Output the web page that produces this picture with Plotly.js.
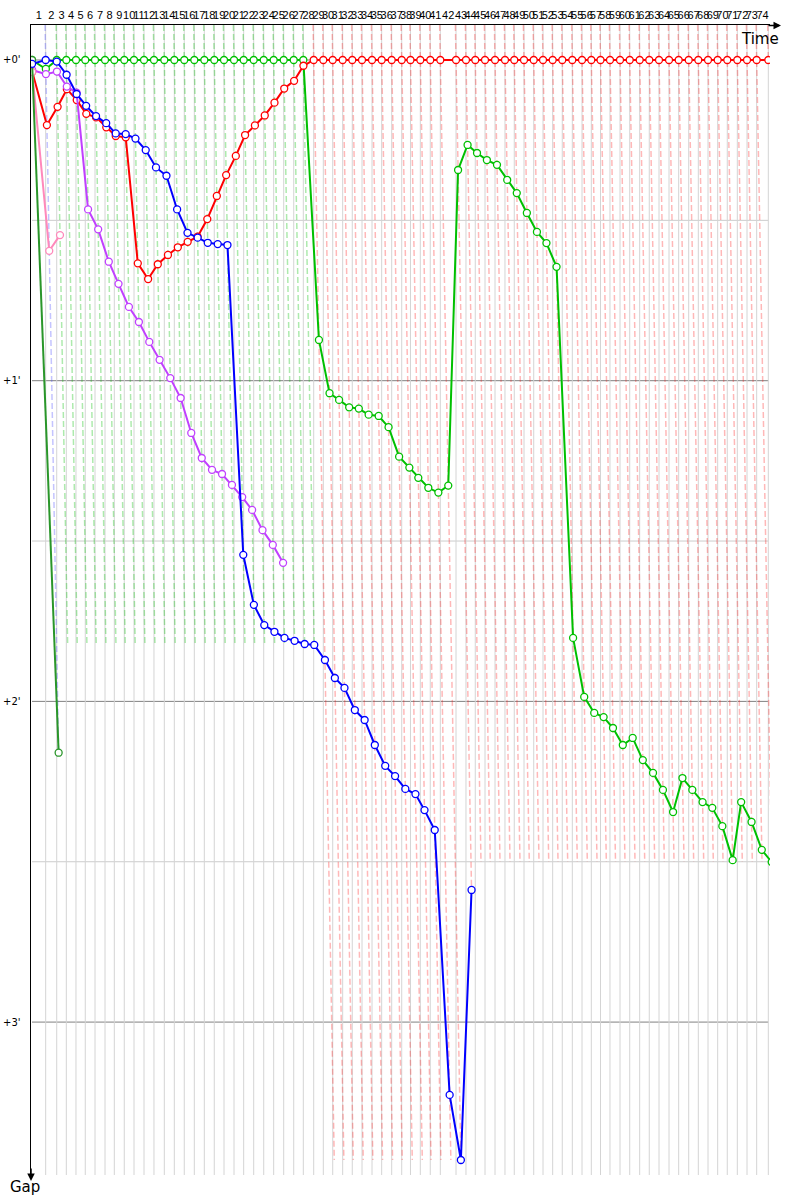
<!DOCTYPE html>
<html><head><meta charset="utf-8">
<script src="https://cdn.plot.ly/plotly-3.0.1.min.js"></script>
<style>html,body{margin:0;padding:0;background:#fff}</style>
</head><body><div id="chart" style="width:800px;height:1200px"></div>
<script>
// Lap numbers (tick labels)
const lapNumbers = [1,2,3,4,5,6,7,8,9,10,11,12,13,14,15,16,17,18,19,20,21,22,23,24,25,26,27,28,29,30,31,32,33,34,35,36,37,38,39,40,41,42,43,44,45,46,47,48,49,50,51,52,53,54,55,56,57,58,59,60,61,62,63,64,65,66,67,68,69,70,71,72,73,74];
// Leader's cumulative time (minutes) at end of lap 0..74
const leaderLapTimes = [0,2.28,4.12,5.72,7.33,8.88,10.50,12.17,13.72,15.38,17.00,18.67,20.33,22.05,23.72,25.38,27.05,28.72,30.38,32.00,33.67,35.28,36.95,38.62,40.28,41.95,43.62,45.22,46.95,48.55,50.12,51.78,53.38,55.00,56.67,58.28,59.95,61.62,63.08,64.72,66.38,68.05,70.67,72.33,73.88,75.50,77.17,78.83,80.38,82.00,83.62,85.17,86.78,88.38,90.05,91.67,93.22,94.75,96.33,98.00,99.62,101.28,102.88,104.50,106.17,107.78,109.45,111.05,112.67,114.28,115.88,117.55,119.17,120.78,122.72];
// Gap to leader (minutes) per lap, starting at lap 0
const gapGreen = [0,0.028,0,0,0,0,0,0,0,0,0,0,0,0,0,0,0,0,0,0,0,0,0,0,0,0,0,0,0.873,1.039,1.060,1.083,1.087,1.106,1.110,1.145,1.237,1.271,1.303,1.334,1.349,1.327,0.343,0.265,0.290,0.312,0.327,0.374,0.415,0.477,0.536,0.571,0.645,1.802,1.986,2.036,2.049,2.083,2.136,2.114,2.183,2.223,2.276,2.345,2.239,2.276,2.314,2.332,2.389,2.495,2.314,2.376,2.463,2.501];
const gapRed = [0.037,0.203,0.146,0.091,0.125,0.168,0.179,0.210,0.237,0.241,0.634,0.683,0.637,0.608,0.584,0.567,0.551,0.496,0.424,0.359,0.299,0.234,0.204,0.173,0.133,0.089,0.065,0.018,0,0,0,0,0,0,0,0,0,0,0,0,0,0,0,0,0,0,0,0,0,0,0,0,0,0,0,0,0,0,0,0,0,0,0,0,0,0,0,0,0,0,0,0,0,0,0];
const gapBlue = [0.012,0,0.005,0.046,0.106,0.143,0.175,0.197,0.229,0.231,0.245,0.281,0.335,0.361,0.466,0.539,0.554,0.570,0.574,0.577,1.543,1.699,1.762,1.783,1.802,1.811,1.821,1.824,1.871,1.927,1.958,2.027,2.058,2.136,2.201,2.233,2.273,2.289,2.339,2.401,3.227,3.430,2.588];
const gapMagenta = [0.031,0.044,0.036,0.083,0.102,0.466,0.528,0.629,0.698,0.770,0.817,0.879,0.935,0.992,1.054,1.163,1.241,1.278,1.291,1.325,1.363,1.403,1.466,1.512,1.568];
const gapPink = [0.037,0.595,0.546];
const gapDarkGreen = [0,2.160];

const carNames = ['green','red','magenta','pink','darkgreen','blue'];
const carGaps = [gapGreen, gapRed, gapMagenta, gapPink, gapDarkGreen, gapBlue];
const carColors = ['#00c000','#ff0000','#c040ff','#ff88bb','#2a962a','#0000ff'];
const lapLineColors = {green:'rgba(0,190,0,0.32)', red:'rgba(255,0,0,0.28)', blue:'rgba(60,60,255,0.3)', magenta:'rgba(190,60,255,0.3)', pink:'rgba(255,120,180,0.3)', darkgreen:'rgba(40,150,40,0.3)'};

const Y_TOP = -0.1091, Y_BOT = 3.4768;
const traces = [];

// vertical grey lap grid lines at leader lap times
(function(){
  const x=[], y=[];
  for (let k=1;k<leaderLapTimes.length;k++){ x.push(leaderLapTimes[k],leaderLapTimes[k],null); y.push(Y_TOP,Y_BOT,null); }
  traces.push({x,y,mode:'lines',line:{color:'#d4d4d4',width:1},hoverinfo:'skip'});
})();

// leader of each lap
const leaderOf = [];
for (let k=1;k<leaderLapTimes.length;k++){
  let best=null, bg=1e9;
  carGaps.forEach((g,i)=>{ if (k<g.length && g[k]<bg){bg=g[k];best=carNames[i];} });
  leaderOf[k]=best;
}
// end of each lap line: largest gap at laps >= k within the same leader stint
const lapLineEnd = [];
for (let k=1;k<leaderLapTimes.length;k++){
  let m=0;
  for (let j=k;j<leaderLapTimes.length && leaderOf[j]===leaderOf[k];j++){
    carGaps.forEach(g=>{ if (j<g.length && g[j]>m) m=g[j]; });
  }
  lapLineEnd[k]=m;
}
// dashed lap lines (constant-lap lines: x = leaderTime + gap)
const byColor = {};
for (let k=1;k<leaderLapTimes.length;k++){
  const c = leaderOf[k];
  if(!byColor[c]) byColor[c]={x:[],y:[]};
  const t=leaderLapTimes[k];
  byColor[c].x.push(t+Y_TOP, t+lapLineEnd[k], null);
  byColor[c].y.push(Y_TOP, lapLineEnd[k], null);
}
Object.keys(byColor).forEach(c=>{
  traces.push({x:byColor[c].x,y:byColor[c].y,mode:'lines',line:{color:lapLineColors[c],width:1.5,dash:'6px,3px'},hoverinfo:'skip'});
});

// cars
carGaps.forEach((g,i)=>{
  const x=g.map((v,k)=>leaderLapTimes[k]+v);
  traces.push({x, y:g.slice(), mode:'lines+markers', line:{color:carColors[i],width:2},
    marker:{symbol:'circle',size:7,color:'#ffffff',line:{color:carColors[i],width:1.3}}, hoverinfo:'skip'});
});

const mids = lapNumbers.map((n,i)=>(leaderLapTimes[i]+leaderLapTimes[i+1])/2);
const tEnd = leaderLapTimes[leaderLapTimes.length-1];
const shapes=[];
[0.5,1.5,2.5].forEach(v=>shapes.push({type:'line',xref:'x',yref:'y',x0:0,x1:tEnd,y0:v,y1:v,line:{color:'#cccccc',width:1},layer:'below'}));
[0,1,2,3].forEach(v=>shapes.push({type:'line',xref:'x',yref:'y',x0:0,x1:tEnd,y0:v,y1:v,line:{color:'#808080',width:1},layer:'below'}));

const W=800,H=1200,ML=31,MR=30,MT=25,MB=25;
const PW=W-ML-MR, PH=H-MT-MB;
const px=p=>(p-ML)/PW, py=q=>(H-MB-q)/PH;
const fontFam='DejaVu Sans, Verdana, sans-serif';
const tickFam='Liberation Sans, Arial, sans-serif';

const layout={
  width:W,height:H,margin:{l:ML,r:MR,t:MT,b:MB,pad:0},
  paper_bgcolor:'#ffffff',plot_bgcolor:'#ffffff',showlegend:false,hovermode:false,
  xaxis:{side:'top',range:[-1/6,(W-MR-32)/6],showgrid:false,zeroline:false,showline:true,linecolor:'#000',linewidth:1.5,
    tickmode:'array',tickvals:mids,ticktext:lapNumbers.map(String),ticks:'',tickangle:0,
    tickfont:{family:tickFam,size:11,color:'#000'},fixedrange:true},
  yaxis:{range:[Y_BOT,Y_TOP],showgrid:false,zeroline:false,showline:true,linecolor:'#000',linewidth:1.5,
    tickmode:'array',tickvals:[0,1,2,3],ticktext:["+0'","+1'","+2'","+3'"],ticks:'',ticklabelstandoff:7,
    tickfont:{family:fontFam,size:10,color:'#000'},fixedrange:true},
  shapes,
  annotations:[
    {xref:'paper',yref:'paper',x:px(760),y:py(39),text:'Time',showarrow:false,xanchor:'center',yanchor:'middle',font:{family:fontFam,size:15,color:'#000'}},
    {xref:'paper',yref:'paper',x:px(25),y:py(1187),text:'Gap',showarrow:false,xanchor:'center',yanchor:'middle',font:{family:fontFam,size:15,color:'#000'}},
    {xref:'paper',yref:'paper',x:px(781),y:py(25.5),text:'',showarrow:true,ax:-14,ay:0,arrowhead:2,arrowsize:1,arrowwidth:1.5,arrowcolor:'#000'},
    {xref:'paper',yref:'paper',x:px(31),y:py(1181),text:'',showarrow:true,ax:0,ay:-14,arrowhead:2,arrowsize:1,arrowwidth:1.5,arrowcolor:'#000'}
  ]
};
Plotly.newPlot('chart',traces,layout,{staticPlot:true,displayModeBar:false});
</script></body></html>
